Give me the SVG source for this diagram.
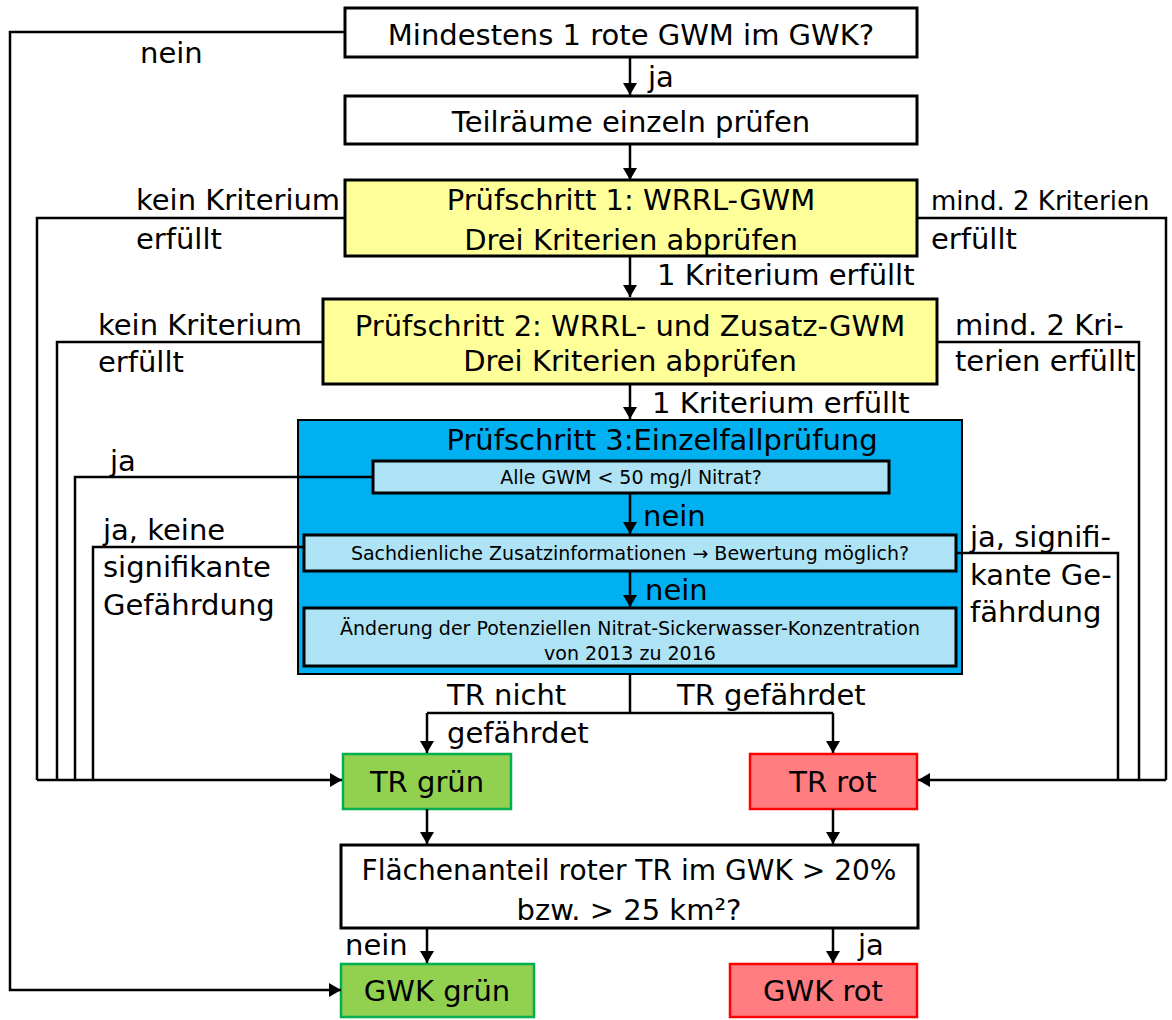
<svg xmlns="http://www.w3.org/2000/svg" width="1172" height="1020" viewBox="0 0 1172 1020">
<defs>
<marker id="ah" viewBox="0 0 12 14" refX="12" refY="7" markerWidth="12" markerHeight="14" markerUnits="userSpaceOnUse" orient="auto">
<path d="M0,0 L12,7 L0,14 Z" fill="#000"/>
</marker>
<style>
text{font-family:"DejaVu Sans","Liberation Sans",sans-serif;fill:#000}
.t{font-size:29px}
.c{text-anchor:middle}
.s{font-size:19px}
.box{fill:#fff;stroke:#000;stroke-width:3}
.yel{fill:#ffff99;stroke:#000;stroke-width:3}
.lb{fill:#aee3f5;stroke:#000;stroke-width:3}
.grn{fill:#92d050;stroke:#00b050;stroke-width:2.5}
.red{fill:#ff7c80;stroke:#ff0000;stroke-width:2.5}
.ln{fill:none;stroke:#000;stroke-width:2.5}
.ar{fill:none;stroke:#000;stroke-width:2.5;marker-end:url(#ah)}
</style>
</defs>
<rect width="1172" height="1020" fill="#fff"/>

<g id="n1"><rect class="box" x="345" y="8" width="572" height="49"/><text class="t c" x="631" y="45">Mindestens 1 rote GWM im GWK?</text></g>
<g id="n2"><rect class="box" x="345" y="96" width="572" height="48"/><text class="t c" x="631" y="132">Teilräume einzeln prüfen</text></g>
<g id="n3"><rect class="yel" x="345" y="180" width="572" height="76"/><text class="t c" x="631" y="210">Prüfschritt 1: WRRL-GWM</text><text class="t c" x="631" y="250">Drei Kriterien abprüfen</text></g>
<g id="n4"><rect class="yel" x="323" y="299" width="614" height="85"/><text class="t c" x="630" y="336">Prüfschritt 2: WRRL- und Zusatz-GWM</text><text class="t c" x="630" y="371">Drei Kriterien abprüfen</text></g>
<g id="n5"><rect x="298" y="420" width="664" height="254" fill="#00b0f0" stroke="#000" stroke-width="2"/><text class="t c" x="662" y="450">Prüfschritt 3:Einzelfallprüfung</text></g>
<g id="n5a"><rect class="lb" x="373" y="461" width="516" height="32"/><text class="s c" x="631" y="484">Alle GWM &lt; 50 mg/l Nitrat?</text></g>
<g id="n5b"><rect class="lb" x="304" y="535" width="652" height="36"/><text class="s c" x="630" y="560">Sachdienliche Zusatzinformationen → Bewertung möglich?</text></g>
<g id="n5c"><rect class="lb" x="304" y="608" width="652" height="58"/><text class="s c" x="630" y="635">Änderung der Potenziellen Nitrat-Sickerwasser-Konzentration</text><text class="s c" x="630" y="660">von 2013 zu 2016</text></g>
<g id="n6"><rect class="grn" x="343" y="754" width="168" height="55"/><text class="t c" x="427" y="792">TR grün</text></g>
<g id="n7"><rect class="red" x="750" y="754" width="167" height="55"/><text class="t c" x="833" y="792">TR rot</text></g>
<g id="n8"><rect class="box" x="341" y="845" width="577" height="83"/><text class="t c" x="629" y="880" textLength="535" lengthAdjust="spacingAndGlyphs">Flächenanteil roter TR im GWK &gt; 20%</text><text class="t c" x="629" y="920">bzw. &gt; 25 km²?</text></g>
<g id="n9"><rect class="grn" x="341" y="964" width="193" height="53"/><text class="t c" x="437" y="1001">GWK grün</text></g>
<g id="n10"><rect class="red" x="730" y="964" width="187" height="53"/><text class="t c" x="823" y="1001">GWK rot</text></g>

<g id="connectors">
<path class="ar" d="M345,32 H10 V990 H341"/>
<path class="ar" d="M630,57 V95"/>
<path class="ar" d="M630,144 V180"/>
<path class="ar" d="M630,256 V297"/>
<path class="ar" d="M630,384 V419"/>
<path class="ar" d="M630,493 V534"/>
<path class="ar" d="M630,571 V607"/>
<path class="ln" d="M345,218 H37 V780"/>
<path class="ln" d="M323,342 H57 V780"/>
<path class="ln" d="M373,477 H75 V780"/>
<path class="ln" d="M304,547 H93 V780"/>
<path class="ar" d="M37,780 H342"/>
<path class="ln" d="M917,218 H1166 V780"/>
<path class="ln" d="M937,342 H1139 V780"/>
<path class="ln" d="M956,553 H1118 V780"/>
<path class="ar" d="M1166,780 H918"/>
<path class="ln" d="M630,674 V713 M427,713 H833"/>
<path class="ar" d="M427,713 V753"/>
<path class="ar" d="M833,713 V753"/>
<path class="ar" d="M427,809 V844"/>
<path class="ar" d="M833,809 V844"/>
<path class="ar" d="M427,928 V963"/>
<path class="ar" d="M833,928 V963"/>
<text class="t" x="140" y="63">nein</text>
<text class="t" x="648" y="87">ja</text>
<text class="t" x="136" y="210">kein Kriterium</text>
<text class="t" x="136" y="249">erfüllt</text>
<text x="931" y="210" font-size="26">mind. 2 Kriterien</text>
<text class="t" x="931" y="249">erfüllt</text>
<text class="t" x="657" y="285">1 Kriterium erfüllt</text>
<text class="t" x="98" y="335">kein Kriterium</text>
<text class="t" x="98" y="372">erfüllt</text>
<text class="t" x="955" y="335">mind. 2 Kri-</text>
<text class="t" x="955" y="371">terien erfüllt</text>
<text class="t" x="652" y="413">1 Kriterium erfüllt</text>
<text class="t" x="110" y="471">ja</text>
<text class="t" x="103" y="540">ja, keine</text>
<text class="t" x="103" y="577">signifikante</text>
<text class="t" x="103" y="615">Gefährdung</text>
<text class="t" x="643" y="526">nein</text>
<text class="t" x="645" y="600">nein</text>
<text class="t" x="970" y="547">ja, signifi-</text>
<text class="t" x="970" y="585">kante Ge-</text>
<text class="t" x="970" y="622">fährdung</text>
<text class="t" x="447" y="705">TR nicht</text>
<text class="t" x="447" y="743">gefährdet</text>
<text class="t" x="677" y="705">TR gefährdet</text>
<text class="t" x="345" y="955">nein</text>
<text class="t" x="858" y="955">ja</text>
</g>
</svg>
